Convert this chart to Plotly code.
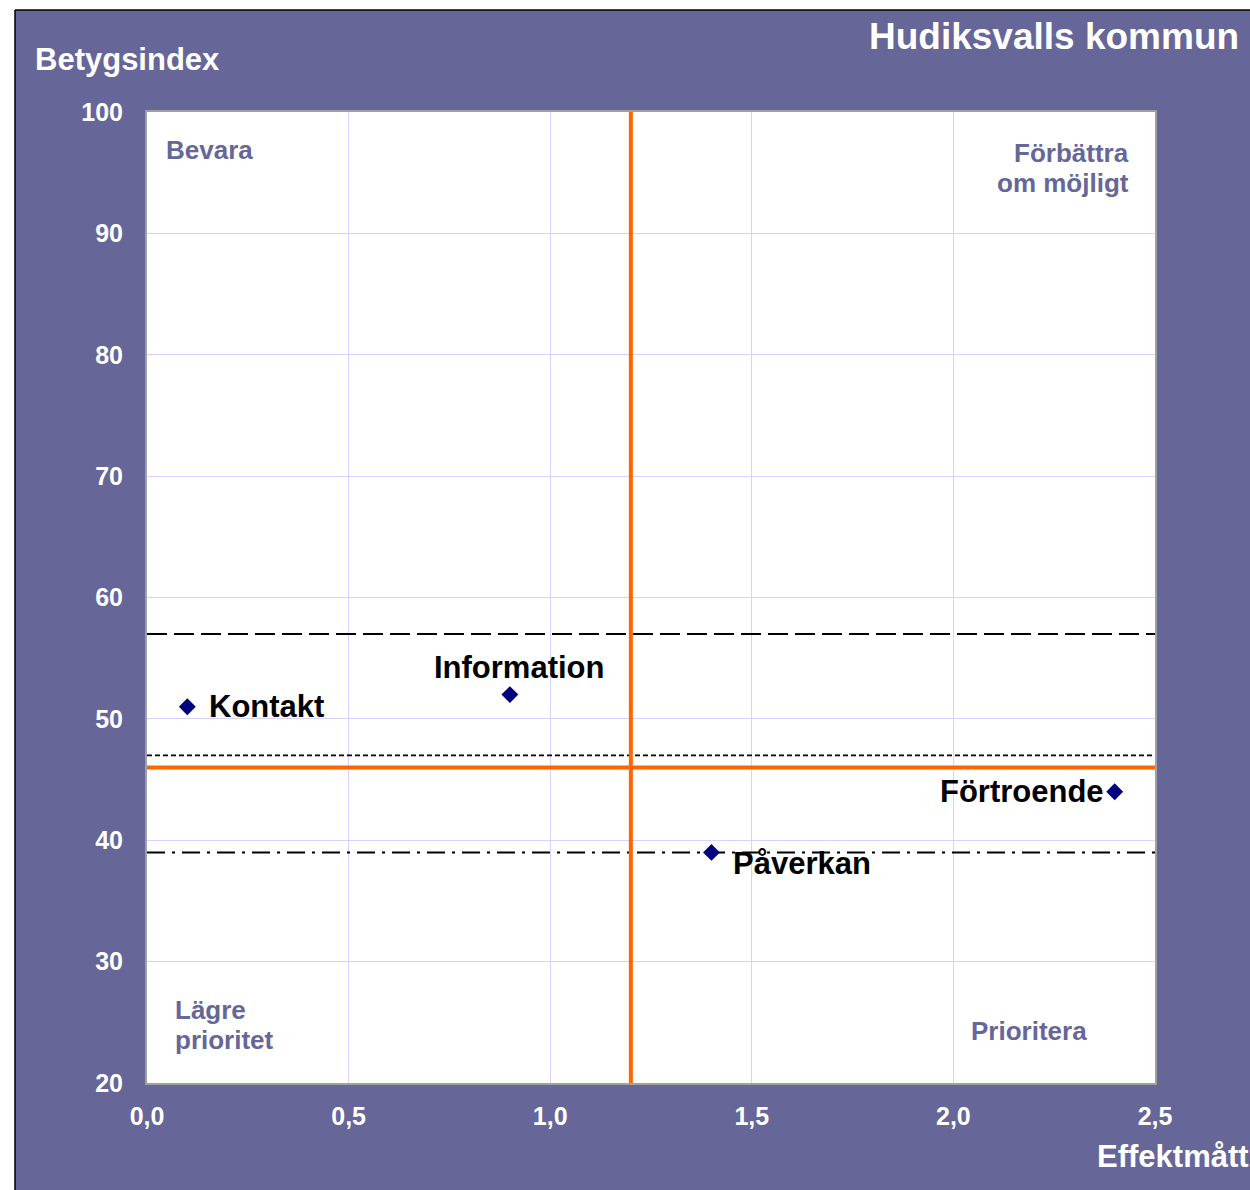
import plotly.graph_objects as go

# ---- data ----
names = ["Kontakt", "Information", "Påverkan", "Förtroende"]
effekt = [0.1, 0.9, 1.4, 2.4]
betyg = [51, 52, 39, 44]

x_ticks = [0.0, 0.5, 1.0, 1.5, 2.0, 2.5]
y_ticks = [20, 30, 40, 50, 60, 70, 80, 90, 100]

x_split = 1.2          # orange vertical
y_split = 46           # orange horizontal
ref_dash = 57          # dashed
ref_dot = 47           # dotted
ref_dashdot = 39       # dash-dot

title = "Hudiksvalls kommun"
y_title = "Betygsindex"
x_title = "Effektmått"
quad_labels = [["Bevara"], ["Förbättra", "om möjligt"], ["Lägre", "prioritet"], ["Prioritera"]]

PURPLE = "#666699"
FONT = "Liberation Sans, Arial, sans-serif"

# page pixel -> paper coordinate helpers (plot area spans 147..1155 x 112..1083 on the page)
def px(X):
    return (X - 147) / 1008

def py(Y):
    return (1083 - Y) / 971

fig = go.Figure()

xr = [x_ticks[0], x_ticks[-1]]
fig.add_trace(go.Scatter(x=xr, y=[ref_dash, ref_dash], mode="lines",
                         line=dict(color="black", width=2, dash="20px,7px"),
                         hoverinfo="skip", showlegend=False))
fig.add_trace(go.Scatter(x=xr, y=[ref_dot, ref_dot], mode="lines",
                         line=dict(color="black", width=1.8, dash="5px,3px"),
                         hoverinfo="skip", showlegend=False))
fig.add_trace(go.Scatter(x=xr, y=[ref_dashdot, ref_dashdot], mode="lines",
                         line=dict(color="black", width=2, dash="18px,7px,3px,7px"),
                         hoverinfo="skip", showlegend=False))
fig.add_trace(go.Scatter(x=xr, y=[y_split, y_split], mode="lines",
                         line=dict(color="#FF6600", width=4),
                         hoverinfo="skip", showlegend=False))
fig.add_trace(go.Scatter(x=[x_split, x_split], y=[y_ticks[0], y_ticks[-1]], mode="lines",
                         line=dict(color="#FF6600", width=4),
                         hoverinfo="skip", showlegend=False))

fig.add_trace(go.Scatter(x=effekt, y=betyg, mode="markers",
                         marker=dict(symbol="diamond", size=13, color="#000080"),
                         text=names, hoverinfo="text", showlegend=False))

offsets = {
    "Kontakt": dict(xanchor="left", yanchor="middle", xshift=20, yshift=0),
    "Information": dict(xanchor="center", yanchor="middle", xshift=10, yshift=27),
    "Påverkan": dict(xanchor="left", yanchor="middle", xshift=20, yshift=-11),
    "Förtroende": dict(xanchor="right", yanchor="middle", xshift=-9, yshift=0),
}
annotations = []
for n, xv, yv in zip(names, effekt, betyg):
    annotations.append(dict(x=xv, y=yv, xref="x", yref="y", text=n, showarrow=False,
                            font=dict(family=FONT, size=31, color="black", weight="bold"),
                            **offsets[n]))

# quadrant labels (one annotation per line for tight line spacing)
qfont = dict(family=FONT, size=26, color=PURPLE, weight="bold")
quad_pos = [
    (164, [150], "left"),
    (1131, [153, 183], "right"),
    (173, [1010, 1040], "left"),
    (1089, [1031], "right"),
]
for lines, (X, Ys, anchor) in zip(quad_labels, quad_pos):
    for line, Y in zip(lines, Ys):
        annotations.append(dict(x=px(X), y=py(Y), xref="paper", yref="paper", text=line,
                                showarrow=False, xanchor=anchor, yanchor="middle",
                                align=anchor, font=qfont))

wfont = dict(family=FONT, color="white", weight="bold")
annotations += [
    dict(x=px(1241), y=py(37), xref="paper", yref="paper", text=title,
         showarrow=False, xanchor="right", yanchor="middle", font=dict(size=37, **wfont)),
    dict(x=px(33), y=py(59), xref="paper", yref="paper", text=y_title,
         showarrow=False, xanchor="left", yanchor="middle", font=dict(size=31, **wfont)),
    dict(x=px(1095), y=py(1156), xref="paper", yref="paper", text=x_title,
         showarrow=False, xanchor="left", yanchor="middle", font=dict(size=31, **wfont)),
]

# white strips at the top/left of the page, with black edge lines
shapes = [
    dict(type="rect", xref="paper", yref="paper", layer="above",
         x0=px(-50), x1=px(15), y0=py(1300), y1=py(-50),
         fillcolor="white", line=dict(width=0)),
    dict(type="rect", xref="paper", yref="paper", layer="above",
         x0=px(-50), x1=px(1300), y0=py(10), y1=py(-50),
         fillcolor="white", line=dict(width=0)),
    dict(type="line", xref="paper", yref="paper", layer="above",
         x0=px(15), x1=px(15), y0=py(10), y1=py(1300),
         line=dict(color="black", width=1.5)),
    dict(type="line", xref="paper", yref="paper", layer="above",
         x0=px(15), x1=px(1300), y0=py(10), y1=py(10),
         line=dict(color="black", width=1.5)),
]

fig.update_layout(
    width=1250, height=1190,
    margin=dict(l=147, r=95, t=112, b=107),
    paper_bgcolor=PURPLE,
    plot_bgcolor="white",
    separators=", ",
    annotations=annotations,
    shapes=shapes,
    showlegend=False,
)
fig.update_xaxes(range=[x_ticks[0], x_ticks[-1]], tickvals=x_ticks, tickformat=".1f",
                 showgrid=True, gridcolor="#d4d4fa", gridwidth=1, zeroline=False,
                 showline=True, linecolor="#a0a0a0", linewidth=2, mirror=True,
                 ticks="", ticklabelstandoff=10,
                 tickfont=dict(family=FONT, size=25, color="white", weight="bold"))
fig.update_yaxes(range=[y_ticks[0], y_ticks[-1]], tickvals=y_ticks,
                 showgrid=True, gridcolor="#d4d4fa", gridwidth=1, zeroline=False,
                 showline=True, linecolor="#a0a0a0", linewidth=2, mirror=True,
                 ticks="", ticklabelstandoff=17,
                 tickfont=dict(family=FONT, size=25, color="white", weight="bold"))

fig.write_html("out.html", config={"displayModeBar": False},
               post_script="document.body.style.margin='0';document.body.style.overflow='hidden';")
